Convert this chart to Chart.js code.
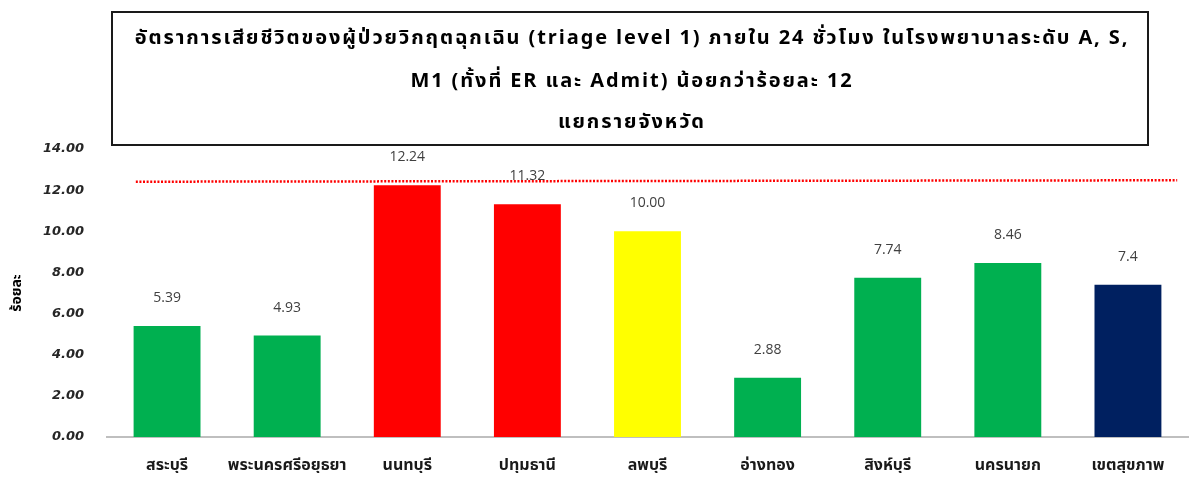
<!DOCTYPE html>
<html>
<head>
<meta charset="utf-8">
<script src="https://cdn.jsdelivr.net/npm/chart.js@4/dist/chart.umd.min.js"></script>
<style>
  html, body { margin: 0; padding: 0; background: #ffffff; }
  #wrap { width: 1192px; height: 477px; }
</style>
</head>
<body>
<div id="wrap"><canvas id="c" width="1192" height="477"></canvas></div>
<script>
// Provinces of the health region and the region total
const provinces = ['สระบุรี', 'พระนครศรีอยุธยา', 'นนทบุรี', 'ปทุมธานี', 'ลพบุรี', 'อ่างทอง', 'สิงห์บุรี', 'นครนายก', 'เขตสุขภาพ'];
// Death rate (%) as printed above each bar
const rateLabels = ['5.39', '4.93', '12.24', '11.32', '10.00', '2.88', '7.74', '8.46', '7.4'];
const rates = rateLabels.map(Number);
const barColors = ['#00b050', '#00b050', '#ff0000', '#ff0000', '#ffff00', '#00b050', '#00b050', '#00b050', '#002060'];

// Reference line (target level), spanning the category range
const targetX = [-0.26, 8.41];
const targetY = [12.41, 12.48];

// Y axis ticks
const yTicks = [0, 2, 4, 6, 8, 10, 12, 14];

const titleLines = [
  'อัตราการเสียชีวิตของผู้ป่วยวิกฤตฉุกเฉิน (triage level 1) ภายใน 24 ชั่วโมง ในโรงพยาบาลระดับ A, S,',
  'M1 (ทั้งที่ ER และ Admit) น้อยกว่าร้อยละ 12',
  'แยกรายจังหวัด'
];

const thaiFont = "Tahoma, 'Leelawadee UI', 'Noto Sans Thai', 'Noto Sans', 'DejaVu Sans', sans-serif";

// Boxed title drawn above the plot
const titleBox = {
  id: 'titleBox',
  afterDraw(chart) {
    const ctx = chart.ctx;
    ctx.save();
    ctx.strokeStyle = '#1a1a1a';
    ctx.lineWidth = 2;
    ctx.strokeRect(112, 12, 1036, 133);
    ctx.fillStyle = '#000000';
    ctx.font = "bold 20px " + thaiFont;
    ctx.letterSpacing = '1.9px';
    ctx.textAlign = 'center';
    ctx.textBaseline = 'middle';
    const ys = [40, 83, 124];
    titleLines.forEach((t, i) => ctx.fillText(t, 632, ys[i]));
    ctx.restore();
  }
};

// Value labels above each bar
const valueLabels = {
  id: 'valueLabels',
  afterDatasetsDraw(chart) {
    const ctx = chart.ctx;
    const meta = chart.getDatasetMeta(0);
    ctx.save();
    ctx.fillStyle = '#404040';
    ctx.font = "14px 'Open Sans', 'DejaVu Sans', sans-serif";
    ctx.textAlign = 'center';
    ctx.textBaseline = 'middle';
    meta.data.forEach((bar, i) => {
      ctx.fillText(rateLabels[i], bar.x, bar.y - 28);
    });
    ctx.restore();
  }
};

new Chart(document.getElementById('c'), {
  data: {
    labels: provinces,
    datasets: [
      {
        type: 'bar',
        data: rates,
        backgroundColor: barColors,
        categoryPercentage: 1,
        barPercentage: 0.557,
        grouped: false,
        order: 2
      },
      {
        type: 'line',
        xAxisID: 'xl',
        data: targetX.map((x, i) => ({ x: x, y: targetY[i] })),
        borderColor: '#ff0000',
        borderWidth: 2.5,
        borderDash: [2, 1.6],
        pointRadius: 0,
        fill: false,
        order: 1
      }
    ]
  },
  options: {
    responsive: false,
    animation: false,
    events: [],
    layout: { padding: { left: 4, top: 149, right: 4, bottom: 4 } },
    plugins: {
      legend: { display: false },
      tooltip: { enabled: false },
      title: { display: false }
    },
    scales: {
      x: {
        type: 'category',
        offset: true,
        afterFit(scale) { scale.height = 36; },
        grid: { display: false },
        border: { color: '#bfbfbf', width: 2 },
        ticks: {
          color: '#1a1a1a',
          font: { family: thaiFont, size: 16, weight: 'bold' },
          padding: 12,
          maxRotation: 0,
          autoSkip: false
        }
      },
      xl: {
        type: 'linear',
        display: false,
        offset: false,
        min: -0.5,
        max: 8.5
      },
      y: {
        min: 0,
        max: 14,
        afterBuildTicks(scale) { scale.ticks = yTicks.map(v => ({ value: v })); },
        afterFit(scale) { scale.width = 103; },
        grid: { display: false },
        border: { display: false },
        ticks: {
          color: '#262626',
          font: { family: "'DejaVu Sans', sans-serif", size: 13, weight: 'bold', style: 'italic' },
          padding: 15,
          callback: v => Number(v).toFixed(2)
        },
        title: {
          display: true,
          text: 'ร้อยละ',
          color: '#000000',
          font: { family: thaiFont, size: 14, weight: 'bold' },
          padding: { top: 6, bottom: 0 }
        }
      }
    }
  },
  plugins: [titleBox, valueLabels]
});
</script>
</body>
</html>
